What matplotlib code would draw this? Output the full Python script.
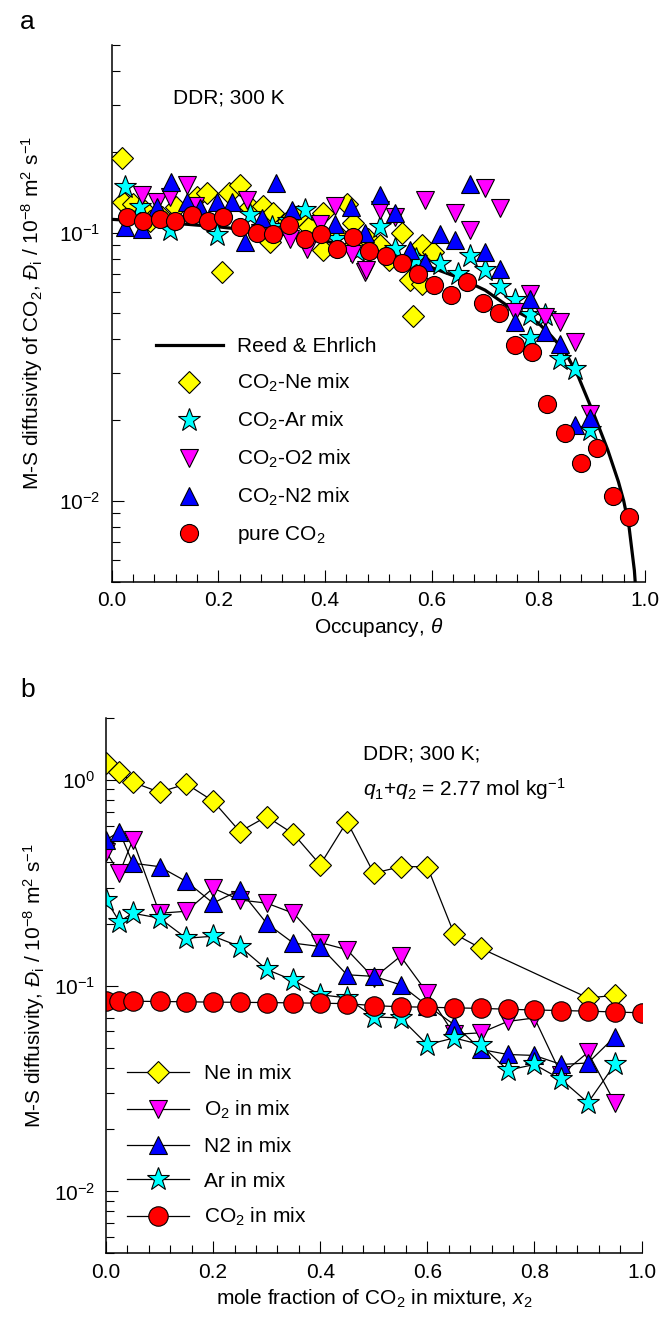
import matplotlib
matplotlib.use('Agg')
import matplotlib.pyplot as plt
from matplotlib.ticker import MultipleLocator, FormatStrFormatter, NullFormatter, LogLocator

plt.rcParams['font.family'] = ['Liberation Sans', 'DejaVu Sans']
plt.rcParams['mathtext.fontset'] = 'custom'
plt.rcParams['mathtext.rm'] = 'Liberation Sans'
plt.rcParams['mathtext.it'] = 'Liberation Sans:italic'
plt.rcParams['mathtext.bf'] = 'Liberation Sans:bold'
fontsize = 15

# ---- panel a: CO2 M-S diffusivity vs occupancy ----
reed_theta = [0.0, 0.1, 0.2, 0.3, 0.4, 0.5, 0.55, 0.6, 0.65, 0.7, 0.75, 0.8, 0.825, 0.85, 0.875,
              0.9, 0.915, 0.93, 0.95, 0.96, 0.97, 0.98, 0.985]
reed_D = [0.112, 0.109, 0.105, 0.100, 0.093, 0.084, 0.079, 0.074, 0.068, 0.061, 0.052, 0.046, 0.041,
          0.036, 0.029, 0.022, 0.0185, 0.0155, 0.0118, 0.0100, 0.0080, 0.0055, 0.0040]

ne_theta = [0.019, 0.021, 0.040, 0.062, 0.072, 0.091, 0.094, 0.12, 0.159, 0.178, 0.206, 0.219, 0.241,
            0.26, 0.284, 0.297, 0.303, 0.33, 0.35, 0.37, 0.396, 0.397, 0.42, 0.441, 0.453, 0.456,
            0.48, 0.503, 0.519, 0.544, 0.559, 0.564, 0.581, 0.581, 0.603]
ne_D = [0.189, 0.130, 0.128, 0.120, 0.110, 0.114, 0.114, 0.125, 0.136, 0.140, 0.0713, 0.140, 0.150,
        0.125, 0.126, 0.092, 0.118, 0.110, 0.115, 0.105, 0.118, 0.086, 0.100, 0.128, 0.109, 0.091,
        0.095, 0.0897, 0.0788, 0.100, 0.0664, 0.0487, 0.0897, 0.0645, 0.0846]

ar_theta = [0.025, 0.053, 0.109, 0.197, 0.259, 0.30, 0.33, 0.362, 0.42, 0.46, 0.503, 0.531, 0.57,
            0.616, 0.65, 0.672, 0.700, 0.728, 0.756, 0.784, 0.784, 0.812, 0.841, 0.869, 0.897]
ar_D = [0.148, 0.124, 0.102, 0.0977, 0.116, 0.105, 0.110, 0.121, 0.095, 0.085, 0.105, 0.087, 0.080,
        0.0766, 0.070, 0.082, 0.0723, 0.0627, 0.0559, 0.0491, 0.0403, 0.0491, 0.0339, 0.0311, 0.0183]

o2_theta = [0.056, 0.084, 0.109, 0.141, 0.156, 0.253, 0.278, 0.334, 0.366, 0.39, 0.419, 0.45, 0.475,
            0.476, 0.503, 0.531, 0.587, 0.644, 0.672, 0.700, 0.728, 0.756, 0.784, 0.812, 0.841,
            0.869, 0.897]
o2_D = [0.138, 0.130, 0.136, 0.150, 0.126, 0.132, 0.0992, 0.095, 0.087, 0.108, 0.126, 0.0835, 0.0713,
        0.0723, 0.121, 0.114, 0.132, 0.118, 0.102, 0.146, 0.123, 0.0505, 0.059, 0.0484, 0.0464,
        0.0391, 0.0211]

n2_theta = [0.025, 0.056, 0.084, 0.111, 0.141, 0.166, 0.197, 0.225, 0.25, 0.281, 0.308, 0.338, 0.419,
            0.448, 0.475, 0.503, 0.531, 0.559, 0.587, 0.616, 0.644, 0.672, 0.700, 0.728, 0.756,
            0.784, 0.812, 0.841, 0.869, 0.897]
n2_D = [0.105, 0.1035, 0.125, 0.154, 0.130, 0.123, 0.130, 0.130, 0.092, 0.113, 0.153, 0.121, 0.108,
        0.124, 0.100, 0.138, 0.118, 0.0859, 0.0777, 0.099, 0.0936, 0.152, 0.0846, 0.0734, 0.0464,
        0.0566, 0.0426, 0.0385, 0.0191, 0.0204]

pure_theta = [0.028, 0.059, 0.090, 0.119, 0.150, 0.181, 0.209, 0.241, 0.272, 0.302, 0.333, 0.363,
              0.392, 0.423, 0.453, 0.483, 0.514, 0.544, 0.575, 0.605, 0.636, 0.666, 0.696, 0.727,
              0.757, 0.788, 0.817, 0.849, 0.879, 0.909, 0.940, 0.969]
pure_D = [0.114, 0.110, 0.112, 0.110, 0.116, 0.110, 0.114, 0.105, 0.100, 0.0985, 0.107, 0.095,
          0.099, 0.087, 0.096, 0.085, 0.082, 0.0773, 0.070, 0.064, 0.0587, 0.0654, 0.0546, 0.050,
          0.038, 0.0359, 0.0229, 0.0179, 0.0139, 0.0158, 0.0104, 0.0087]

# ---- panel b: component diffusivities vs CO2 mole fraction ----
x2 = [0.0, 0.025, 0.05, 0.1, 0.15, 0.2, 0.25, 0.3, 0.35, 0.4, 0.45, 0.5, 0.55, 0.6, 0.65, 0.7,
      0.75, 0.8, 0.85, 0.9, 0.95, 1.0]
x2_mix = x2[:-1]

ne_mix = [1.205, 1.09, 0.975, 0.872, 0.957, 0.79, 0.561, 0.664, 0.547, 0.387, 0.628, 0.352,
          0.379, 0.379, 0.179, 0.152, None, None, None, 0.0872, 0.0897]
o2_mix = [0.449, 0.352, 0.511, 0.225, 0.23, 0.298, 0.261, 0.252, 0.225, 0.162, 0.1496, 0.109,
          0.139, 0.0922, 0.058, 0.059, 0.067, 0.0697, 0.037, 0.0474, 0.027]
n2_mix = [0.511, 0.561, 0.394, 0.379, 0.321, 0.252, 0.292, 0.201, 0.161, 0.155, 0.113, 0.111,
          0.101, 0.080, 0.0647, 0.049, 0.0463, 0.0458, 0.0414, 0.0421, 0.0564]
ar_mix = [0.261, 0.205, 0.225, 0.213, 0.17, 0.174, 0.155, 0.12, 0.106, 0.0904, 0.0872, 0.0705,
          0.0697, 0.0517, 0.0557, 0.0517, 0.0388, 0.0414, 0.035, 0.027, 0.0414]
co2_mix = [0.0840, 0.0845, 0.0840, 0.0838, 0.0835, 0.0832, 0.0830, 0.0828, 0.0825, 0.0822, 0.0818,
           0.0800, 0.0790, 0.0786, 0.0780, 0.0776, 0.0768, 0.0762, 0.0757, 0.0752, 0.0745, 0.0738]

yellow, cyan, magenta, blue, red = '#FFFF00', '#00FFFF', '#FF00FF', '#0000FF', '#FF0000'


def style_axis(ax, ylim):
    ax.set_xlim(0, 1)
    ax.set_yscale('log')
    ax.set_ylim(*ylim)
    ax.spines['top'].set_visible(False)
    ax.spines['right'].set_visible(False)
    for s in ['left', 'bottom']:
        ax.spines[s].set_linewidth(1.1)
    ax.xaxis.set_major_locator(MultipleLocator(0.2))
    ax.xaxis.set_minor_locator(MultipleLocator(0.04))
    ax.xaxis.set_major_formatter(FormatStrFormatter('%.1f'))
    ax.yaxis.set_major_locator(LogLocator(base=10))
    ax.yaxis.set_minor_locator(LogLocator(base=10, subs=range(2, 10)))
    ax.yaxis.set_minor_formatter(NullFormatter())
    ax.tick_params(which='both', direction='in', top=False, right=False, width=0.8, labelsize=fontsize)
    ax.tick_params(which='major', length=8.5)
    ax.tick_params(which='minor', length=6)
    ax.tick_params(axis='x', pad=7)
    ax.tick_params(axis='y', pad=8)


fig = plt.figure(figsize=(6.65, 13.19), dpi=100)

# panel a
ax1 = fig.add_axes([0.168, 0.559, 0.802, 0.4069])
ek = dict(mec='k', mew=0.8, ls='none')
ax1.plot(reed_theta, reed_D, color='k', lw=2.3, label='Reed & Ehrlich', zorder=2)
ax1.plot(ne_theta, ne_D, marker='D', ms=11, mfc=yellow, label='CO$_2$-Ne mix', zorder=3, **ek)
ax1.plot(ar_theta, ar_D, marker='*', ms=17, mfc=cyan, label='CO$_2$-Ar mix', zorder=3, **ek)
ax1.plot(o2_theta, o2_D, marker='v', ms=13, mfc=magenta, label='CO$_2$-O2 mix', zorder=3, **ek)
ax1.plot(n2_theta, n2_D, marker='^', ms=13, mfc=blue, label='CO$_2$-N2 mix', zorder=3, **ek)
ax1.plot(pure_theta, pure_D, marker='o', ms=13, mfc=red, label='pure CO$_2$', zorder=4, **ek)
style_axis(ax1, (0.005, 0.5))
ax1.set_xlabel(r'Occupancy, $\theta$', fontsize=fontsize)
ax1.set_ylabel(r'M-S diffusivity of CO$_2$, $\mathit{Đ}_\mathrm{i}$ / 10$^{-8}$ m$^2$ s$^{-1}$',
               fontsize=fontsize)
ax1.yaxis.set_label_coords(-0.125, 0.5)
ax1.text(0.114, 0.891, 'DDR; 300 K', transform=ax1.transAxes, fontsize=fontsize, va='baseline')
ax1.legend(loc='upper left', bbox_to_anchor=(0.083, 0.455), frameon=False, fontsize=fontsize,
           numpoints=1, handlelength=3.2, handletextpad=0.7, labelspacing=0.75, borderpad=0,
           borderaxespad=0)

# panel b
ax2 = fig.add_axes([0.1594, 0.0498, 0.8053, 0.4058])
lk = dict(color='k', lw=0.9, mec='k', mew=0.8)
ne_x = [x for x, v in zip(x2_mix, ne_mix) if v is not None]
ne_v = [v for v in ne_mix if v is not None]
ax2.plot(ne_x, ne_v, marker='D', ms=11, mfc=yellow, label='Ne in mix', **lk)
ax2.plot(x2_mix, o2_mix, marker='v', ms=13, mfc=magenta, label='O$_2$ in mix', **lk)
ax2.plot(x2_mix, n2_mix, marker='^', ms=13, mfc=blue, label='N2 in mix', **lk)
ax2.plot(x2_mix, ar_mix, marker='*', ms=17, mfc=cyan, label='Ar in mix', **lk)
ax2.plot(x2, co2_mix, marker='o', ms=14, mfc=red, label='CO$_2$ in mix', **lk)
style_axis(ax2, (0.005, 2.0))
ax2.set_xlabel(r'mole fraction of CO$_2$ in mixture, $x_2$', fontsize=fontsize)
ax2.set_ylabel(r'M-S diffusivity, $\mathit{Đ}_\mathrm{i}$ / 10$^{-8}$ m$^2$ s$^{-1}$', fontsize=fontsize)
ax2.yaxis.set_label_coords(-0.11, 0.5)
ax2.text(0.4805, 0.923, 'DDR; 300 K;', transform=ax2.transAxes, fontsize=fontsize, va='baseline')
ax2.text(0.4805, 0.855, r'$q_1$+$q_2$ = 2.77 mol kg$^{-1}$', transform=ax2.transAxes,
         fontsize=fontsize, va='baseline')
ax2.legend(loc='upper left', bbox_to_anchor=(0.039, 0.353), frameon=False, fontsize=fontsize,
           numpoints=1, handlelength=3.0, handletextpad=0.7, labelspacing=0.75, borderpad=0,
           borderaxespad=0)

fig.text(20 / 665, 1 - 22 / 1319, 'a', fontsize=19, ha='left', va='center')
fig.text(20 / 665, 1 - 690 / 1319, 'b', fontsize=19, ha='left', va='center')

fig.savefig('out.png', dpi=100)
